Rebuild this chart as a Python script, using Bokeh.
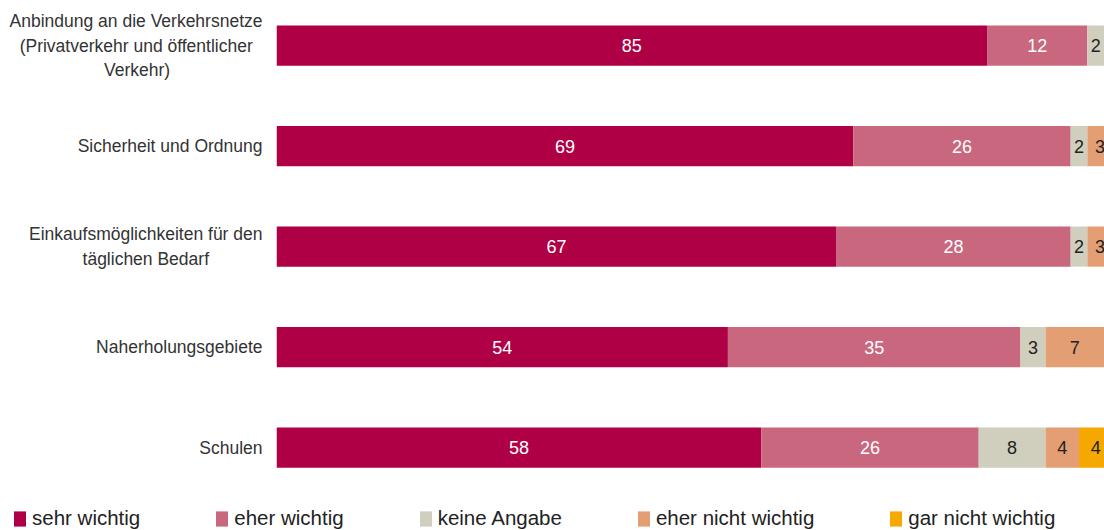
from bokeh.plotting import figure
from bokeh.layouts import column
from bokeh.models import ColumnDataSource, Range1d, FixedTicker, Legend, LegendItem
from bokeh.core.properties import value
from bokeh.embed import file_html
from bokeh.resources import INLINE

NB = "\u00a0"
categories = [
    "Anbindung an die Verkehrsnetze\n(Privatverkehr und öffentlicher" + NB * 2 + "\nVerkehr)" + NB * 19,
    "Sicherheit und Ordnung",
    "Einkaufsmöglichkeiten für den\ntäglichen Bedarf" + NB * 11,
    "Naherholungsgebiete",
    "Schulen",
]
series_names = ["sehr wichtig", "eher wichtig", "keine Angabe", "eher nicht wichtig", "gar nicht wichtig"]
sehr_wichtig = [85, 69, 67, 54, 58]
eher_wichtig = [12, 26, 28, 35, 26]
keine_angabe = [2, 2, 2, 3, 8]
eher_nicht_wichtig = [0, 3, 3, 7, 4]
gar_nicht_wichtig = [0, 0, 0, 0, 4]

series = [sehr_wichtig, eher_wichtig, keine_angabe, eher_nicht_wichtig, gar_nicht_wichtig]
colors = ["#B00045", "#C8677E", "#D0CFBE", "#E39E74", "#F5A800"]
text_colors = ["#FFFFFF", "#FFFFFF", "#222222", "#222222", "#222222"]

FONT = "Liberation Sans"

p = figure(width=1104, height=495, output_backend="svg", toolbar_location=None,
           x_range=Range1d(0, 99.05), y_range=Range1d(4.477, -0.448),
           x_axis_location=None,
           min_border_left=276, min_border_right=0, min_border_top=0, min_border_bottom=0,
           outline_line_color=None)
p.frame_align = False
p.xgrid.visible = False
p.ygrid.visible = False

ypos = list(range(len(categories)))
left = [0.0] * len(categories)
for name, vals, col, tcol in zip(series_names, series, colors, text_colors):
    right = [l + v for l, v in zip(left, vals)]
    mid = [(l + r) / 2 for l, r in zip(left, right)]
    labels = [str(v) if v > 0 else "" for v in vals]
    src = ColumnDataSource(dict(y=ypos, left=left, right=right, mid=mid, lab=labels))
    p.hbar(y="y", left="left", right="right", height=0.4, source=src,
           fill_color=col, line_color=None)
    p.text(x="mid", y="y", text="lab", source=src, text_align="center", text_baseline="middle",
           text_color=tcol, text_font=value(FONT), text_font_size="18px")
    left = right

ax = p.yaxis[0]
ax.ticker = FixedTicker(ticks=ypos)
ax.major_label_overrides = {i: c for i, c in enumerate(categories)}
ax.axis_line_color = None
ax.major_tick_line_color = None
ax.minor_tick_line_color = None
ax.major_label_standoff = 8
ax.major_label_text_font = FONT
ax.major_label_text_font_size = "17.5px"
ax.major_label_text_color = "#333333"
ax.major_label_text_line_height = 1.22

# legend strip
lg = figure(width=1104, height=35, output_backend="svg", toolbar_location=None,
            x_range=Range1d(0, 1), y_range=Range1d(0, 1),
            x_axis_location=None, y_axis_location=None,
            min_border_left=0, min_border_right=0, min_border_top=0, min_border_bottom=0,
            outline_line_color=None, border_fill_color="white", background_fill_color="white")
lg.frame_align = False
lg.xgrid.visible = False
lg.ygrid.visible = False
items = []
for name, col in zip(series_names, colors):
    # legend proxies, placed outside the visible range
    r = lg.hbar(y=[50], left=[50], right=[51], height=0.4, fill_color=col, line_color=None)
    items.append(LegendItem(label=name, renderers=[r]))

legend = Legend(items=items, orientation="horizontal", location=(12, 0),
                glyph_width=15, glyph_height=19, label_standoff=5, spacing=74,
                padding=0, margin=0, border_line_color=None, background_fill_alpha=0,
                label_text_font=FONT, label_text_font_size="20.5px", label_text_color="#222222",
                label_height=19)
lg.add_layout(legend, "center")

open("out.html", "w").write(file_html(column(p, lg, spacing=0), INLINE))
